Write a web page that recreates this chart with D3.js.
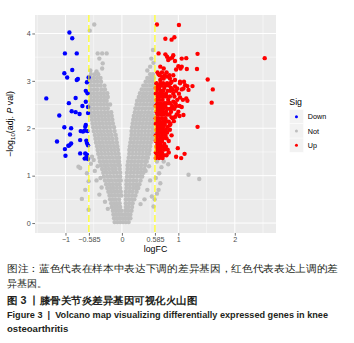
<!DOCTYPE html>
<html>
<head>
<meta charset="utf-8">
<script src="https://cdn.jsdelivr.net/npm/d3@7"></script>
<style>
  body { margin: 0; background: #fff; }
  text { font-family: "Liberation Sans", Arial, sans-serif; }
</style>
</head>
<body>
<div id="chart"></div>
<script>
// ---- data ----
const xTicks = [-1, -0.585, 0, 0.585, 1, 2];
const xTickLabels = ["\u22121", "\u22120.585", "0", "0.585", "1", "2"];
const xMinor = [-1.5, -0.5, 0.5, 1.5, 2.5];
const yTicks = [0, 1, 2, 3, 4];
const yMinor = [0.5, 1.5, 2.5, 3.5];
const cutoffs = [-0.585, 0.585];
const sigLevels = ["Down", "Not", "Up"];
const sigColors = ["#0000ff", "#bebebe", "#ff0000"];

// [logFC, -log10(adj.P)]
const downPoints = [
  [-0.93,4.02],[-0.88,3.90],[-1.01,3.58],[-0.80,3.58],[-1.02,3.16],[-0.88,3.23],[-0.97,3.07],
  [-0.78,3.04],[-0.80,3.02],[-0.59,3.07],[-0.62,2.97],[-0.64,2.79],[-0.61,2.74],[-1.34,2.63],
  [-0.82,2.64],[-0.64,2.56],[-0.94,2.53],[-0.70,2.47],[-0.60,2.45],[-0.89,2.36],[-0.82,2.34],
  [-0.75,2.30],[-1.11,2.27],[-0.60,2.32],[-1.02,2.02],[-0.90,2.00],[-0.65,2.03],[-0.64,2.07],
  [-0.69,1.93],[-0.61,1.94],[-0.92,1.87],[-0.66,1.95],[-0.73,1.94],[-1.15,1.72],[-0.74,1.75],
  [-0.63,1.74],[-0.62,1.69],[-0.90,1.68],[-0.93,1.64],[-0.95,1.63],[-0.60,1.64],[-1.01,1.56],
  [-0.74,1.47],[-0.65,1.47],[-0.62,1.44],[-1.00,1.42],[-0.62,1.42],[-0.64,1.37],[-0.60,1.35],
  [-0.66,1.36]
];

const upPoints = [
  [0.62,4.19],[1.01,4.18],[0.77,3.89],[0.88,3.87],[0.93,3.92],[0.65,3.58],[0.77,3.56],[0.80,3.51],
  [0.85,3.47],[0.82,3.44],[0.91,3.54],[0.89,3.49],[1.06,3.47],[1.14,3.48],[1.34,3.57],[0.94,3.42],
  [0.74,3.26],[0.68,3.30],[1.00,3.31],[1.04,3.26],[1.15,3.25],[1.33,3.25],[0.96,3.24],[1.06,3.30],
  [2.53,3.48],[1.52,3.03],[0.65,3.14],[0.71,3.09],[0.74,3.05],[0.68,3.02],[0.80,3.09],[0.85,3.05],
  [0.94,3.02],[1.03,2.95],[1.12,2.91],[1.25,2.89],[1.18,2.81],[1.09,2.84],[0.88,2.98],[1.03,2.98],
  [1.10,2.98],[0.94,2.88],[0.98,2.84],[0.90,2.81],[1.06,2.82],[1.16,2.89],[1.61,2.82],[1.59,2.54],
  [1.03,2.65],[1.14,2.63],[1.16,2.58],[0.98,2.60],[0.91,2.56],[0.85,2.53],[0.96,2.47],[1.06,2.45],
  [0.88,2.42],[1.00,2.35],[1.09,2.28],[1.02,2.26],[0.94,2.24],[0.88,2.23],[1.34,2.03],[0.99,1.58],
  [1.11,1.46],[0.96,1.40],[1.05,1.37],[0.85,2.07],[0.83,2.14]
];

// dense parts, one row per -log10(adj.P) level: [y, logFC, logFC, ...]
const upRows = [
  [3.18,0.63,0.71,0.79],
  [3.12,0.67,0.76,0.84,0.91],
  [2.95,0.61,0.68,0.73,0.80,0.86],
  [2.90,0.64,0.70,0.77,0.83],
  [2.85,0.60,0.66,0.75,0.87],
  [2.79,0.62,0.69,0.73,0.81,0.86,0.96],
  [2.73,0.60,0.66,0.71,0.78,0.91,1.01],
  [2.67,0.63,0.68,0.74,0.79,0.85,0.93],
  [2.60,0.61,0.66,0.72,0.82,1.08],
  [2.53,0.63,0.69,0.75,0.79,0.84,0.95],
  [2.47,0.60,0.66,0.72,0.77,0.89,1.02],
  [2.41,0.63,0.68,0.73,0.80,0.85,0.93],
  [2.35,0.61,0.66,0.72,0.78,0.87],
  [2.29,0.63,0.69,0.74,0.80,0.84,0.97],
  [2.21,0.60,0.65,0.71,0.77,0.90],
  [2.15,0.62,0.67,0.73,0.79,0.92],
  [2.09,0.60,0.66,0.71,0.76,0.86],
  [2.03,0.63,0.69,0.74,0.81],
  [1.97,0.61,0.66,0.72,0.78,0.85],
  [1.91,0.63,0.68,0.74,0.80],
  [1.85,0.60,0.65,0.71,0.77,0.88],
  [1.79,0.62,0.68,0.73,0.79],
  [1.73,0.60,0.66,0.71,0.83],
  [1.67,0.63,0.68,0.75],
  [1.61,0.61,0.66,0.72,0.78],
  [1.55,0.63,0.69,0.75,0.81],
  [1.49,0.60,0.66,0.71,0.83],
  [1.43,0.62,0.68,0.74,0.79],
  [1.37,0.60,0.66,0.72]
];

const notRows = [
  [0.02,-0.13,-0.08,-0.03,0.02,0.07,0.12],
  [0.10,-0.14,-0.09,-0.04,0.01,0.06,0.11,0.15],
  [0.18,-0.15,-0.10,-0.05,0.00,0.05,0.10,0.15],
  [0.26,-0.16,-0.11,-0.06,-0.01,0.06,0.11,0.17],
  [0.34,-0.18,-0.13,-0.08,-0.03,0.07,0.12,0.18],
  [0.42,-0.19,-0.14,-0.09,-0.04,0.07,0.13,0.19],
  [0.50,-0.21,-0.16,-0.11,-0.05,0.07,0.12,0.17,0.22],
  [0.58,-0.22,-0.17,-0.12,-0.06,-0.01,0.07,0.12,0.18,0.24],
  [0.66,-0.24,-0.19,-0.13,-0.08,-0.02,0.07,0.13,0.19,0.26],
  [0.74,-0.26,-0.20,-0.15,-0.09,-0.03,0.08,0.14,0.20,0.25,0.29],
  [0.82,-0.28,-0.22,-0.16,-0.10,-0.04,0.08,0.14,0.20,0.26,0.31],
  [0.90,-0.30,-0.24,-0.18,-0.12,-0.06,-0.02,0.08,0.14,0.20,0.26,0.33],
  [0.98,-0.32,-0.26,-0.20,-0.14,-0.08,-0.03,0.09,0.15,0.21,0.27,0.33,0.36],
  [1.06,-0.33,-0.27,-0.21,-0.15,-0.09,-0.03,0.09,0.15,0.21,0.27,0.33,0.38],
  [1.14,-0.35,-0.29,-0.23,-0.17,-0.11,-0.04,0.10,0.16,0.22,0.28,0.34,0.40],
  [1.22,-0.37,-0.31,-0.25,-0.19,-0.13,-0.07,-0.04,0.10,0.16,0.22,0.28,0.34,0.41],
  [1.30,-0.39,-0.33,-0.27,-0.21,-0.15,-0.09,-0.05,0.11,0.17,0.23,0.29,0.35,0.41,0.44],
  [1.38,-0.40,-0.34,-0.28,-0.22,-0.16,-0.10,-0.05,0.12,0.18,0.24,0.30,0.36,0.42,0.46],
  [1.46,-0.42,-0.36,-0.30,-0.24,-0.18,-0.12,-0.06,0.13,0.19,0.25,0.31,0.37,0.43,0.48],
  [1.54,-0.43,-0.37,-0.31,-0.25,-0.19,-0.13,-0.07,0.13,0.19,0.25,0.31,0.37,0.43,0.49],
  [1.62,-0.44,-0.38,-0.32,-0.26,-0.20,-0.14,-0.08,0.14,0.20,0.26,0.32,0.38,0.44,0.50],
  [1.70,-0.46,-0.40,-0.34,-0.28,-0.22,-0.16,-0.09,0.15,0.21,0.27,0.33,0.39,0.45,0.51],
  [1.78,-0.47,-0.41,-0.35,-0.29,-0.23,-0.17,-0.10,0.16,0.22,0.28,0.34,0.40,0.46,0.52,0.55],
  [1.86,-0.48,-0.42,-0.36,-0.30,-0.24,-0.18,-0.11,0.17,0.23,0.29,0.35,0.41,0.47,0.53,0.56],
  [1.94,-0.50,-0.44,-0.38,-0.32,-0.26,-0.20,-0.13,0.17,0.23,0.29,0.35,0.41,0.47,0.53,0.56],
  [2.02,-0.51,-0.45,-0.39,-0.33,-0.27,-0.21,-0.14,0.18,0.24,0.30,0.36,0.42,0.48,0.54],
  [2.10,-0.52,-0.46,-0.40,-0.34,-0.28,-0.22,-0.16,0.19,0.25,0.31,0.37,0.43,0.49,0.55],
  [2.18,-0.53,-0.47,-0.41,-0.35,-0.29,-0.23,-0.17,0.20,0.26,0.32,0.38,0.44,0.50,0.56],
  [2.26,-0.54,-0.48,-0.42,-0.36,-0.30,-0.24,-0.18,0.21,0.27,0.33,0.39,0.45,0.51,0.56],
  [2.34,-0.55,-0.49,-0.43,-0.37,-0.31,-0.25,-0.19,0.23,0.29,0.35,0.41,0.47,0.53],
  [2.42,-0.55,-0.49,-0.43,-0.37,-0.31,-0.25,0.24,0.30,0.36,0.42,0.48,0.54],
  [2.50,-0.56,-0.50,-0.44,-0.38,-0.32,-0.26,-0.21,0.26,0.32,0.38,0.44,0.50,0.56],
  [2.58,-0.56,-0.50,-0.44,-0.38,-0.32,-0.27,0.27,0.33,0.39,0.45,0.51,0.56],
  [2.66,-0.55,-0.49,-0.43,-0.37,-0.31,-0.25,0.30,0.36,0.42,0.48,0.54],
  [2.74,-0.56,-0.50,-0.44,-0.38,-0.32,-0.26,0.32,0.38,0.44,0.50,0.55],
  [2.82,-0.55,-0.49,-0.43,-0.36,-0.30,0.35,0.41,0.47,0.53],
  [2.90,-0.56,-0.50,-0.44,-0.38,-0.31,0.38,0.44,0.50,0.56],
  [2.98,-0.55,-0.49,-0.43,-0.37,0.42,0.48,0.54],
  [3.06,-0.56,-0.50,-0.44,-0.38,0.45,0.51,0.56],
  [3.14,-0.55,-0.48,-0.42,0.50,0.55]
];

const notPoints = [
  [-0.49,4.19],[-0.57,4.06],[-0.43,3.58],[-0.35,3.58],[-0.27,3.58],[-0.40,3.47],[-0.34,3.37],
  [-0.35,3.26],[-0.56,3.22],[-0.45,3.20],[0.55,3.65],[0.52,3.47],[0.50,3.30],[0.45,3.22],[0.56,3.38],
  [-0.77,1.19],[-0.74,1.16],[-0.62,1.05],[-0.59,0.88],[-0.65,0.70],[-0.71,0.51],[-0.59,0.28],
  [-0.50,1.33],[-0.53,1.40],[-0.45,0.90],[-0.40,0.60],[-0.36,0.75],[-0.48,1.10],[-0.55,1.25],
  [-0.43,1.20],[-0.38,0.95],[-0.30,0.45],[-0.25,0.30],
  [0.66,1.05],[0.82,1.24],[0.68,0.84],[0.65,0.70],[0.53,0.56],[0.56,0.35],[1.18,1.02],[1.37,0.93],
  [0.62,1.30],[0.70,1.18],[0.60,0.95],[0.45,0.70],[0.50,0.90],[0.42,1.10],[0.40,0.50],[0.33,0.40],
  [0.48,1.20],[0.74,1.30],[0.58,0.50],[0.62,0.62]
];

const yTitle = ["\u2212log", "10", "(adj. ", "P", " val)"];
const xTitle = "logFC";
const legendTitle = "Sig";
const captionLines = [
  {text: "图注：蓝色代表在样本中表达下调的差异基因，红色代表表达上调的差", bold: false, cjk: true, width: 331},
  {text: "异基因。", bold: false, cjk: true, width: 0},
  {text: "图 3 丨膝骨关节炎差异基因可视化火山图", bold: true, cjk: true, width: 190},
  {text: "Figure 3\u00a0\u00a0|\u00a0\u00a0Volcano map visualizing differentially expressed genes in knee", bold: true, cjk: false, width: 321},
  {text: "osteoarthritis", bold: true, cjk: false, width: 0}
];

// ---- layout ----
const width = 354, height = 343;
const panel = {left: 35, right: 276, top: 15, bottom: 233};

const svg = d3.select("#chart").append("svg")
  .attr("width", width)
  .attr("height", height);

const xScale = d3.scaleLinear().domain([-1.54, 2.73]).range([panel.left, panel.right]);
const yScale = d3.scaleLinear().domain([-0.21, 4.39]).range([panel.bottom, panel.top]);
const colorScale = d3.scaleOrdinal().domain(sigLevels).range(sigColors);

const genes = [
  ...notRows.flatMap(([y, ...xs]) => xs.map(x => ({fc: x, p: y, sig: "Not"}))),
  ...notPoints.map(([x, y]) => ({fc: x, p: y, sig: "Not"})),
  ...downPoints.map(([x, y]) => ({fc: x, p: y, sig: "Down"})),
  ...upRows.flatMap(([y, ...xs]) => xs.map(x => ({fc: x, p: y, sig: "Up"}))),
  ...upPoints.map(([x, y]) => ({fc: x, p: y, sig: "Up"}))
];

// panel background + grid
svg.append("rect")
  .attr("x", panel.left).attr("y", panel.top)
  .attr("width", panel.right - panel.left).attr("height", panel.bottom - panel.top)
  .attr("fill", "#ebebeb");

const grid = svg.append("g");
grid.selectAll("line.xminor").data(xMinor).join("line")
  .attr("x1", d => xScale(d)).attr("x2", d => xScale(d))
  .attr("y1", panel.top).attr("y2", panel.bottom)
  .attr("stroke", "#fff").attr("stroke-width", 0.5);
grid.selectAll("line.yminor").data(yMinor).join("line")
  .attr("y1", d => yScale(d)).attr("y2", d => yScale(d))
  .attr("x1", panel.left).attr("x2", panel.right)
  .attr("stroke", "#fff").attr("stroke-width", 0.5);
grid.selectAll("line.xmajor").data(xTicks).join("line")
  .attr("x1", d => xScale(d)).attr("x2", d => xScale(d))
  .attr("y1", panel.top).attr("y2", panel.bottom)
  .attr("stroke", "#fff").attr("stroke-width", 1);
grid.selectAll("line.ymajor").data(yTicks).join("line")
  .attr("y1", d => yScale(d)).attr("y2", d => yScale(d))
  .attr("x1", panel.left).attr("x2", panel.right)
  .attr("stroke", "#fff").attr("stroke-width", 1);

// points
svg.append("g").selectAll("circle")
  .data(genes)
  .join("circle")
  .attr("cx", d => xScale(d.fc))
  .attr("cy", d => yScale(d.p))
  .attr("r", 2.2)
  .attr("fill", d => colorScale(d.sig));

// cutoff lines
svg.append("g").selectAll("line")
  .data(cutoffs)
  .join("line")
  .attr("x1", d => xScale(d)).attr("x2", d => xScale(d))
  .attr("y1", panel.top).attr("y2", panel.bottom)
  .attr("stroke", "#ffff00")
  .attr("stroke-width", 1.1)
  .attr("stroke-dasharray", "7 3");

// axes
const xAxis = d3.axisBottom(xScale)
  .tickValues(xTicks)
  .tickFormat((d, i) => xTickLabels[i])
  .tickSize(2.7).tickPadding(1.5).tickSizeOuter(0);
const yAxis = d3.axisLeft(yScale)
  .tickValues(yTicks)
  .tickFormat(d3.format("d"))
  .tickSize(2.7).tickPadding(1.5).tickSizeOuter(0);

const xAxisGroup = svg.append("g")
  .attr("transform", `translate(0, ${panel.bottom})`)
  .call(xAxis);
const yAxisGroup = svg.append("g")
  .attr("transform", `translate(${panel.left}, 0)`)
  .call(yAxis);

[xAxisGroup, yAxisGroup].forEach(g => {
  g.select(".domain").remove();
  g.selectAll(".tick line").attr("stroke", "#333").attr("stroke-width", 0.7);
  g.selectAll(".tick text")
    .attr("fill", "#4d4d4d")
    .attr("font-size", 7.2)
    .attr("font-family", "Liberation Sans, Arial, sans-serif");
});

svg.append("text")
  .attr("x", (panel.left + panel.right) / 2)
  .attr("y", 252)
  .attr("text-anchor", "middle")
  .attr("font-size", 8.8)
  .attr("fill", "#000")
  .text(xTitle);

const yLabel = svg.append("text")
  .attr("transform", `translate(13, ${(panel.top + panel.bottom) / 2}) rotate(-90)`)
  .attr("text-anchor", "middle")
  .attr("font-size", 8.8)
  .attr("fill", "#000");
yLabel.append("tspan").text(yTitle[0]);
yLabel.append("tspan").attr("font-size", 6.2).attr("dy", 2.2).text(yTitle[1]);
yLabel.append("tspan").attr("dy", -2.2).text(yTitle[2]);
yLabel.append("tspan").attr("font-style", "italic").text(yTitle[3]);
yLabel.append("tspan").text(yTitle[4]);

// legend
const legend = svg.append("g").attr("transform", "translate(289.3, 0)");
legend.append("text")
  .attr("x", 0).attr("y", 105)
  .attr("font-size", 8.8)
  .attr("fill", "#000")
  .text(legendTitle);
const keys = legend.selectAll("g.key")
  .data(sigLevels)
  .join("g")
  .attr("class", "key")
  .attr("transform", (d, i) => `translate(0, ${109.5 + i * 14.3})`);
keys.append("rect")
  .attr("width", 14.3).attr("height", 14.3)
  .attr("fill", "#f2f2f2")
  .attr("stroke", "#fff").attr("stroke-width", 0.5);
keys.append("circle")
  .attr("cx", 7.15).attr("cy", 7.15).attr("r", 1.5)
  .attr("fill", d => colorScale(d));
keys.append("text")
  .attr("x", 18.5).attr("y", 9.8)
  .attr("font-size", 7.2)
  .attr("fill", "#000")
  .text(d => d);

// caption
const captionY = [272, 286.5, 303.5, 317.5, 331.5];
svg.append("g").selectAll("text")
  .data(captionLines)
  .join("text")
  .attr("x", 7)
  .attr("y", (d, i) => captionY[i])
  .attr("font-family", d => d.cjk ? "Noto Sans CJK SC, sans-serif" : "Lato, Open Sans, sans-serif")
  .attr("font-weight", d => d.bold ? 700 : 400)
  .attr("font-size", d => d.cjk ? 10.3 : 9.6)
  .attr("fill", "#231f20")
  .attr("textLength", d => d.width || null)
  .attr("lengthAdjust", "spacingAndGlyphs")
  .text(d => d.text);
</script>
</body>
</html>
